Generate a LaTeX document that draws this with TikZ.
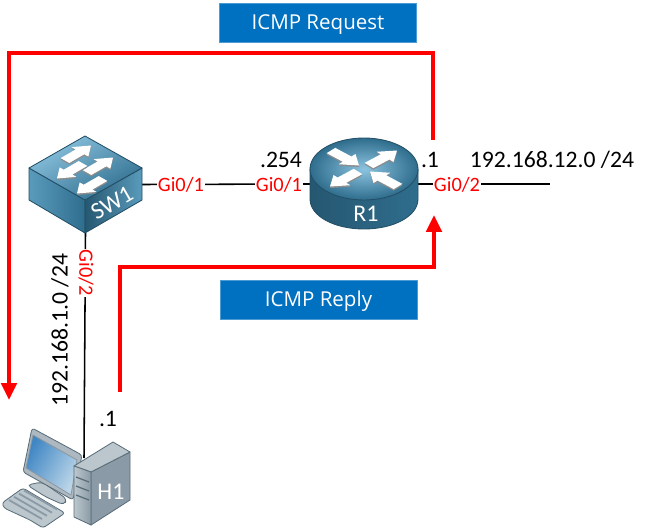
\documentclass[tikz,border=0pt]{standalone}
\usepackage{fontspec}
\usepackage{xcolor}
\setmainfont{Carlito}
\newfontfamily\boxfont{Open Sans}
\usetikzlibrary{positioning, arrows.meta, calc}
\definecolor{vred}{HTML}{ff0000}
\definecolor{vbox}{HTML}{0070c0}
\definecolor{devline}{HTML}{234f66}
\definecolor{devdark}{HTML}{2f6d8d}
\definecolor{devmid}{HTML}{5a9bbc}
\definecolor{devlight}{HTML}{8cc4e0}
\definecolor{pcdark}{HTML}{5a6e7a}
\definecolor{pcmid}{HTML}{8a9aa6}
\definecolor{pclight}{HTML}{bcc7cd}
\definecolor{pcblue}{HTML}{3f86c4}
\definecolor{pcsky}{HTML}{bcd6e8}

\begin{document}
\begin{tikzpicture}[
  x=0.025cm, y=-0.025cm,
  lbl/.style={font=\fontsize{16.8}{18}\selectfont, inner sep=0pt},
  port/.style={font=\fontsize{14.5}{16}\selectfont, text=vred, fill=white, inner sep=1pt},
  banner/.style={fill=vbox, draw=vbox!70!white, thin, text=white, minimum width=4.93cm,
                 minimum height=0.97cm, inner sep=0pt, text height=12.2pt, text depth=2pt,
                 font=\boxfont\fontsize{14.6}{16}\selectfont},
  devbox/.style={inner sep=0pt, outer sep=0pt},
  devname/.style={text=white, inner sep=0pt, font=\fontsize{17}{19}\selectfont},
  devface/.style={draw=devline, line width=0.6pt, line join=round},
  pcface/.style={draw=pcdark, line width=0.6pt, line join=round},
  cable/.style={draw=black, line width=1.1pt},
  redflow/.style={draw=vred, line width=2.9pt, line join=miter,
                  -{Triangle[length=0.42cm, width=0.38cm]}}
]
\useasboundingbox (0,0) rectangle (648,531);

% ---- Device outlines ----
\node[devbox, minimum width=2.825cm, minimum height=2.425cm] (sw1) at (85.5,184.5) {};
\node[devbox, minimum width=2.7cm, minimum height=2.275cm] (r1) at (364,184) {};
\node[devbox, minimum width=2.3cm, minimum height=1.675cm] (h1) at (84,491.5) {};
\coordinate (lan) at (550,184);

% ---- Cables ----
\draw[cable] (sw1.east) -- (r1.west);
\draw[cable] (r1.east) -- (lan);
\draw[cable] (sw1.south) -- (h1.north);

% ---- SW1 ----
\shade[devface, left color=devmid, right color=devdark] (29,168) -- (85,200) -- (85,233) -- (29,200) -- cycle;
\shade[devface, left color=devdark!80!black, right color=devmid] (85,200) -- (142,168) -- (142,200) -- (85,233) -- cycle;
\shade[devface, left color=devlight, right color=devdark, shading angle=30] (85,136) -- (142,168) -- (85,200) -- (29,168) -- cycle;
\foreach \cx/\cy/\ux/\uy in {78/153/13/-7.5, 100/165/13/-7.5, 70/171/-13/7.5, 90/186/-13/7.5} {
  \fill[black!45, shift={(\cx,\cy+1.5)}, x={(\ux*0.025cm,-\uy*0.025cm)}, y={(-\uy*0.04cm,-\ux*0.013cm)}]
    (-1,-.36) -- (.15,-.36) -- (.15,-.7) -- (1,0) -- (.15,.7) -- (.15,.36) -- (-1,.36) -- cycle;
  \fill[white, shift={(\cx,\cy)}, x={(\ux*0.025cm,-\uy*0.025cm)}, y={(-\uy*0.04cm,-\ux*0.013cm)}]
    (-1,-.36) -- (.15,-.36) -- (.15,-.7) -- (1,0) -- (.15,.7) -- (.15,.36) -- (-1,.36) -- cycle;
}
\node[devname, rotate=30] (sw1name) at (112,203) {SW1};

% ---- R1 ----
\shade[devface, left color=devdark!80!black, middle color=devmid, right color=devdark]
  (310,169) -- (310,199) .. controls (310,216) and (334,229) .. (364,229)
  .. controls (394,229) and (418,216) .. (418,199) -- (418,169) -- cycle;
\shade[devface, inner color=devlight, outer color=devdark] (364,169) ellipse [x radius=54, y radius=31];
\foreach \cx/\cy/\ux/\uy in {345/158/14/7.5, 383/158/14/-7.5, 344/179/-14/7.5, 384/179/-14/-7.5} {
  \fill[black!45, shift={(\cx,\cy+1.5)}, x={(\ux*0.025cm,-\uy*0.025cm)}, y={(-\uy*0.04cm,-\ux*0.013cm)}]
    (-1,-.36) -- (.15,-.36) -- (.15,-.7) -- (1,0) -- (.15,.7) -- (.15,.36) -- (-1,.36) -- cycle;
  \fill[white, shift={(\cx,\cy)}, x={(\ux*0.025cm,-\uy*0.025cm)}, y={(-\uy*0.04cm,-\ux*0.013cm)}]
    (-1,-.36) -- (.15,-.36) -- (.15,-.7) -- (1,0) -- (.15,.7) -- (.15,.36) -- (-1,.36) -- cycle;
}
\node[devname] (r1name) at (366,214) {R1};

% ---- H1 ----
\filldraw[pcface, fill=pclight, rounded corners=3pt] (27,485) -- (42,482) -- (67,499) -- (64,505) -- (46,497) -- cycle;
\filldraw[pcface, fill=pclight, rounded corners=2pt] (2,503) -- (23,488) -- (65,513) -- (43,528) -- (30,520) -- (4,508) -- cycle;
\foreach \kx in {0,...,3} {
  \draw[pcmid, line width=1.3pt] (9+\kx*5,500-\kx*3.2) -- (42+\kx*5,519-\kx*3.2);
}
\filldraw[pcface, fill=pcmid!70!white, rounded corners=2pt] (32,428) -- (82,455) -- (73,500) -- (23,472) -- cycle;
\shade[pcface, draw=pcdark!70!white, left color=pcblue, right color=pcsky, shading angle=60]
  (33,435) -- (77,460) -- (71,495) -- (26,468) -- cycle;
\filldraw[pcface, fill=pcmid] (91,472) -- (130,452) -- (130,500) -- (91,525) -- cycle;
\filldraw[pcface, fill=pclight] (74,466) -- (113,442) -- (130,452) -- (91,472) -- cycle;
\shade[pcface, left color=pclight, right color=pcmid] (74,466) -- (91,472) -- (91,525) -- (74,517) -- cycle;
\foreach \sy in {477,486,495} {
  \draw[pcdark, line width=0.9pt] (76,\sy) -- (89,\sy+5);
}
\node[devname] (h1name) at (111,492) {H1};

% ---- Port labels ----
\node[port] (p1) at (181,185) {Gi0/1};
\node[port] (p2) at (279,185) {Gi0/1};
\node[port] (p3) at (457,185) {Gi0/2};
\node[port, rotate=-90] (p4) at (86,273) {Gi0/2};

% ---- Addresses ----
\node[lbl] (a1) at (281,160) {.254};
\node[lbl] (a2) at (430,160) {.1};
\node[lbl] (n1) at (552,160) {192.168.12.0 /24};
\node[lbl, rotate=90] (n2) at (60,330) {192.168.1.0 /24};
\node[lbl] (a3) at (108,419) {.1};

% ---- Banners ----
\node[banner] (req) at (318,22.5) {ICMP Request};
\node[banner] (rep) at (318.5,299.5) {ICMP Reply};

% ---- Red flows ----
\coordinate (reqa) at (433,140);
\coordinate (reqb) at (433,53);
\coordinate (reqc) at (9,53);
\coordinate (reqd) at (9,400);
\coordinate (repa) at (120,392);
\coordinate (repb) at (120,267);
\coordinate (repc) at (434,267);
\coordinate (repd) at (434,215);
\draw[redflow] (reqa) -- (reqb) -- (reqc) -- (reqd);
\draw[redflow] (repa) -- (repb) -- (repc) -- (repd);

\end{tikzpicture}
\end{document}
